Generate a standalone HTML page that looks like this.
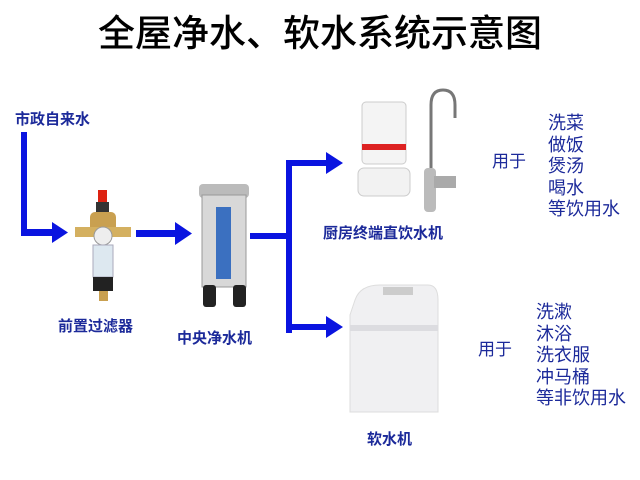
<!DOCTYPE html>
<html><head><meta charset="utf-8"><style>
body{margin:0;width:640px;height:480px;background:#fff;position:relative;overflow:hidden;font-family:"Liberation Sans","Noto Sans CJK SC",sans-serif}
.t{position:absolute;white-space:nowrap;color:#1c2a9a}
.l{font-size:15px;line-height:18px;font-weight:bold}
.g{font-size:18px;line-height:21.5px}
</style></head><body>
<div class="t" style="left:0;width:640px;text-align:center;top:6px;font-size:37px;line-height:48px;color:#000;font-family:'Noto Sans CJK SC',sans-serif;font-weight:500">全屋净水、软水系统示意图</div>
<svg width="640" height="480" style="position:absolute;left:0;top:0">
<g fill="#0a14e0" stroke="none">
<rect x="21" y="132" width="6" height="104"/><rect x="21" y="229" width="36" height="7"/>
<polygon points="52,222 68,232.5 52,243"/>
<rect x="136" y="230" width="42" height="7"/><polygon points="175,222 192,233.5 175,245"/>
<rect x="250" y="233" width="40" height="6"/>
<rect x="286" y="160" width="6" height="173"/>
<rect x="286" y="160" width="42" height="6"/><polygon points="326,152 343,163 326,174"/>
<rect x="286" y="324" width="42" height="6"/><polygon points="326,316 343,327 326,338"/>
</g>
<rect x="98" y="190" width="9" height="12" fill="#d21"/>
<rect x="96" y="202" width="13" height="12" fill="#333"/>
<rect x="90" y="212" width="26" height="25" rx="5" fill="#c9a050"/>
<rect x="75" y="227" width="56" height="10" fill="#d4b060"/>
<circle cx="103" cy="236" r="9" fill="#eee" stroke="#999"/>
<rect x="93" y="245" width="20" height="32" fill="#dde8f0" stroke="#aab"/>
<rect x="93" y="277" width="20" height="14" fill="#222"/>
<rect x="99" y="291" width="9" height="10" fill="#c9a050"/>
<rect x="199" y="184" width="50" height="14" rx="4" fill="#bbb"/>
<rect x="202" y="195" width="44" height="92" fill="#d8d8d8" stroke="#999"/>
<rect x="216" y="207" width="15" height="72" fill="#3b70c0"/>
<rect x="203" y="285" width="13" height="22" rx="3" fill="#222"/>
<rect x="233" y="285" width="13" height="22" rx="3" fill="#222"/>
<rect x="362" y="102" width="44" height="62" rx="4" fill="#f4f4f4" stroke="#ccc"/>
<rect x="362" y="144" width="44" height="6" fill="#d22"/>
<rect x="358" y="168" width="52" height="28" rx="6" fill="#f2f2f2" stroke="#ccc"/>
<path d="M431 185 L431 105 Q431 90 443 90 Q455 90 455 105 L455 118" stroke="#777" stroke-width="3" fill="none"/>
<rect x="424" y="168" width="12" height="44" rx="4" fill="#bbb"/>
<rect x="434" y="176" width="22" height="12" fill="#aaa"/>
<path d="M355 300 Q360 285 380 285 L428 285 Q438 285 438 300 L438 412 L350 412 L350 315 Z" fill="#f0f0f2" stroke="#ddd"/>
<rect x="383" y="287" width="30" height="8" fill="#ccc"/>
<rect x="350" y="325" width="88" height="6" fill="#dcdce0"/>
</svg>
<div class="t l" style="left:15px;top:111px">市政自来水</div>
<div class="t l" style="left:58px;top:318px">前置过滤器</div>
<div class="t l" style="left:177px;top:330px">中央净水机</div>
<div class="t l" style="left:323px;top:225px">厨房终端直饮水机</div>
<div class="t l" style="left:367px;top:431px">软水机</div>
<div class="t g" style="left:492px;top:151px;font-size:17px">用于</div>
<div class="t g" style="left:548px;top:113px">洗菜<br>做饭<br>煲汤<br>喝水<br>等饮用水</div>
<div class="t g" style="left:478px;top:339px;font-size:17px">用于</div>
<div class="t g" style="left:536px;top:302px">洗漱<br>沐浴<br>洗衣服<br>冲马桶<br>等非饮用水</div>
</body></html>
